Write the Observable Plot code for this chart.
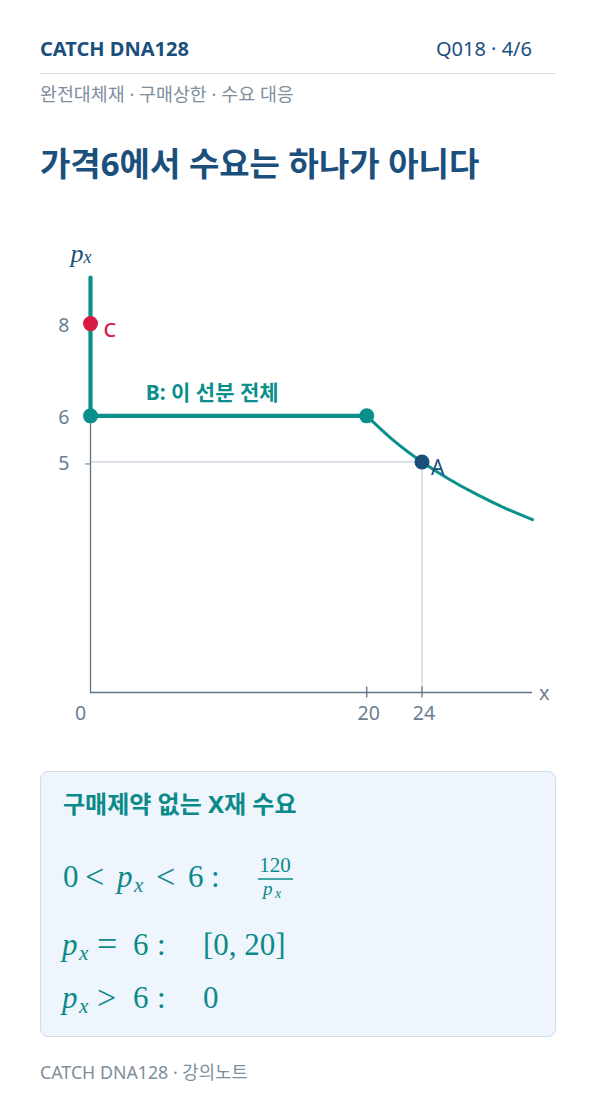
<!DOCTYPE html>
<html>
<head>
<meta charset="utf-8">
<script src="https://cdn.jsdelivr.net/npm/d3@7"></script>
<script src="https://cdn.jsdelivr.net/npm/@observablehq/plot@0.6"></script>
<style>
  html, body { margin: 0; padding: 0; background: #ffffff; }
  body { width: 596px; height: 1106px; position: relative; overflow: hidden;
         font-family: "Noto Sans", "Noto Sans CJK KR", sans-serif; }
  .abs { position: absolute; white-space: nowrap; line-height: 1; }
  #brand { left: 40px; top: 39px; font-size: 20px; font-weight: 700; color: #1b4f7c; }
  #page { right: 64px; top: 39px; font-size: 20px; font-weight: 400; color: #1b4f7c; }
  #rule { position: absolute; left: 40px; top: 73px; width: 516px; height: 1px; background: #d5e2ec; }
  #subtitle { left: 40px; top: 85px; font-size: 18.4px; color: #7f8e9d; }
  #title { left: 40px; top: 147px; font-size: 33px; font-weight: 700; color: #1b4f7c; }
  #chart { position: absolute; left: 0; top: 230px; }
  #box { position: absolute; left: 40px; top: 771px; width: 516px; height: 266px; box-sizing: border-box;
         background: #eef5fc; border: 1px solid #cfdfea; border-radius: 8px; }
  #boxhead { left: 63px; top: 792px; font-size: 24px; font-weight: 700; color: #0b8a8a; }
  #math { position: absolute; left: 0; top: 0; }
  #footer { left: 40px; top: 1064px; font-size: 17.8px; color: #7f8e9d; }
</style>
</head>
<body>
<div class="abs" id="brand">CATCH DNA128</div>
<div class="abs" id="page">Q018 · 4/6</div>
<div id="rule"></div>
<div class="abs" id="subtitle">완전대체재 · 구매상한 · 수요 대응</div>
<div class="abs" id="title">가격6에서 수요는 하나가 아니다</div>
<div id="chart"></div>
<div id="box"></div>
<div class="abs" id="boxhead">구매제약 없는 X재 수요</div>
<svg id="math" width="596" height="1106" xmlns="http://www.w3.org/2000/svg"><g fill="#0b8a8a" font-family="'Liberation Serif', 'DejaVu Serif', serif"><text y="887" font-size="31"><tspan x="63">0</tspan><tspan x="85" font-size="34" dy="1">&lt;</tspan><tspan x="117" dy="-1" font-style="italic">p</tspan><tspan x="134" dy="5" font-size="21" font-style="italic">x</tspan><tspan x="156" dy="-4" font-size="34">&lt;</tspan><tspan x="188" dy="-1">6</tspan><tspan x="211">:</tspan></text><text x="275" y="872" font-size="21" text-anchor="middle">120</text><line x1="258" x2="293" y1="879" y2="879" stroke="#0b8a8a" stroke-width="1.3"/><text y="895" font-size="19"><tspan x="263" font-style="italic">p</tspan><tspan x="275" dy="3" font-size="14" font-style="italic">x</tspan></text><text y="955" font-size="31"><tspan x="62" font-style="italic">p</tspan><tspan x="79" dy="5" font-size="21" font-style="italic">x</tspan><tspan x="97" dy="-4" font-size="36">=</tspan><tspan x="133" dy="-1">6</tspan><tspan x="157">:</tspan><tspan x="203">[0, 20]</tspan></text><text y="1008" font-size="31"><tspan x="62" font-style="italic">p</tspan><tspan x="79" dy="5" font-size="21" font-style="italic">x</tspan><tspan x="97" dy="-4" font-size="34">&gt;</tspan><tspan x="133" dy="-1">6</tspan><tspan x="157">:</tspan><tspan x="203">0</tspan></text></g></svg>
<div class="abs" id="footer">CATCH DNA128 · 강의노트</div>

<script>
// ---- data ----
const segX = [0, 0, 20];            // vertical + horizontal part of demand
const segY = [9, 6, 6];
const curveX = [20, 22, 24, 26, 28, 30, 32];   // downward-sloping part
const curveY = [6, 5.45, 5, 4.62, 4.29, 4, 3.75];
const knotX = [0, 20];              // endpoints of segment B
const knotY = [6, 6];
const pointC = [{x: 0, y: 8, label: "C"}];
const pointA = [{x: 24, y: 5, label: "A"}];
const segLabel = [{x: 4, y: 6.5, label: "B: 이 선분 전체"}];
const xTickValues = [20, 24];
const xZero = [0];
const yTickValues = [5, 6, 8];
const xAxisName = ["x"];
const yAxisName = ["p", "x"];

const teal = "#0a8f8c";
const navy = "#1b4f7c";
const red = "#d81b45";
const axisColor = "#5f7387";
const labelColor = "#6a7e92";
const guide = "#c6d1dc";
const sans = "'Noto Sans', 'Noto Sans CJK KR', sans-serif";
const serif = "'Liberation Serif', 'DejaVu Serif', serif";

const plot = Plot.plot({
  width: 596,
  height: 520,
  marginLeft: 90,
  marginRight: 64,
  marginTop: 47,
  marginBottom: 58,
  x: {domain: [0, 32], axis: null},
  y: {domain: [0, 9]},
  style: {fontFamily: sans, color: labelColor, background: "transparent", overflow: "visible"},
  marks: [
    // guides to A
    Plot.ruleY(pointA, {y: "y", x1: 0, x2: "x", stroke: guide, strokeWidth: 1.2}),
    Plot.ruleX(pointA, {x: "x", y1: 0, y2: "y", stroke: guide, strokeWidth: 1.2}),
    // axes
    Plot.ruleY([0], {stroke: axisColor, strokeWidth: 1.3}),
    Plot.ruleX([0], {stroke: axisColor, strokeWidth: 1.3}),
    Plot.ruleX(xTickValues, {y1: -0.12, y2: 0.12, stroke: axisColor, strokeWidth: 1.3}),
    Plot.axisY({ticks: yTickValues, tickSize: 5, tickPadding: 16, fontSize: 19.5, label: null,
                stroke: axisColor, dy: 2, tickFormat: d => String(d)}),
    Plot.text(xTickValues, {x: d => d, y: 0, dx: 2, dy: 21, text: d => String(d), fontSize: 19.5, fill: labelColor}),
    Plot.text(xZero, {x: d => d, y: 0, dx: -10, dy: 21, text: d => String(d), fontSize: 19.5, fill: labelColor}),
    Plot.text(xAxisName, {frameAnchor: "bottom-right", dx: 17, dy: 7, text: d => d, fontSize: 20, fill: labelColor}),
    Plot.text(yAxisName.slice(0, 1), {frameAnchor: "top-left", dx: -20, dy: -34, text: d => d,
               fontFamily: serif, fontStyle: "italic", fontSize: 26, fill: navy}),
    Plot.text(yAxisName.slice(1), {frameAnchor: "top-left", dx: -7, dy: -27, text: d => d,
               fontFamily: serif, fontStyle: "italic", fontSize: 18, fill: navy}),
    // demand
    Plot.line(curveX, {x: curveX, y: curveY, curve: "natural", stroke: teal, strokeWidth: 3}),
    Plot.line(segX, {x: segX, y: segY, stroke: teal, strokeWidth: 4.2, strokeLinejoin: "miter"}),
    // points
    Plot.dot(knotX, {x: knotX, y: knotY, r: 7.5, fill: teal, stroke: "none"}),
    Plot.dot(pointC, {x: "x", y: "y", r: 7.5, fill: red, stroke: "none"}),
    Plot.dot(pointA, {x: "x", y: "y", r: 7.5, fill: navy, stroke: "none"}),
    // labels
    Plot.text(pointC, {x: "x", y: "y", text: "label", dx: 13, dy: 7, textAnchor: "start",
                       fill: red, fontSize: 20, fontWeight: 500}),
    Plot.text(pointA, {x: "x", y: "y", text: "label", dx: 9, dy: 6, textAnchor: "start",
                       fill: navy, fontSize: 21, fontWeight: 400}),
    Plot.text(segLabel, {x: "x", y: "y", text: "label", textAnchor: "start",
                         fill: teal, fontSize: 21, fontWeight: 700})
  ]
});
document.getElementById("chart").appendChild(plot);
</script>
</body>
</html>
